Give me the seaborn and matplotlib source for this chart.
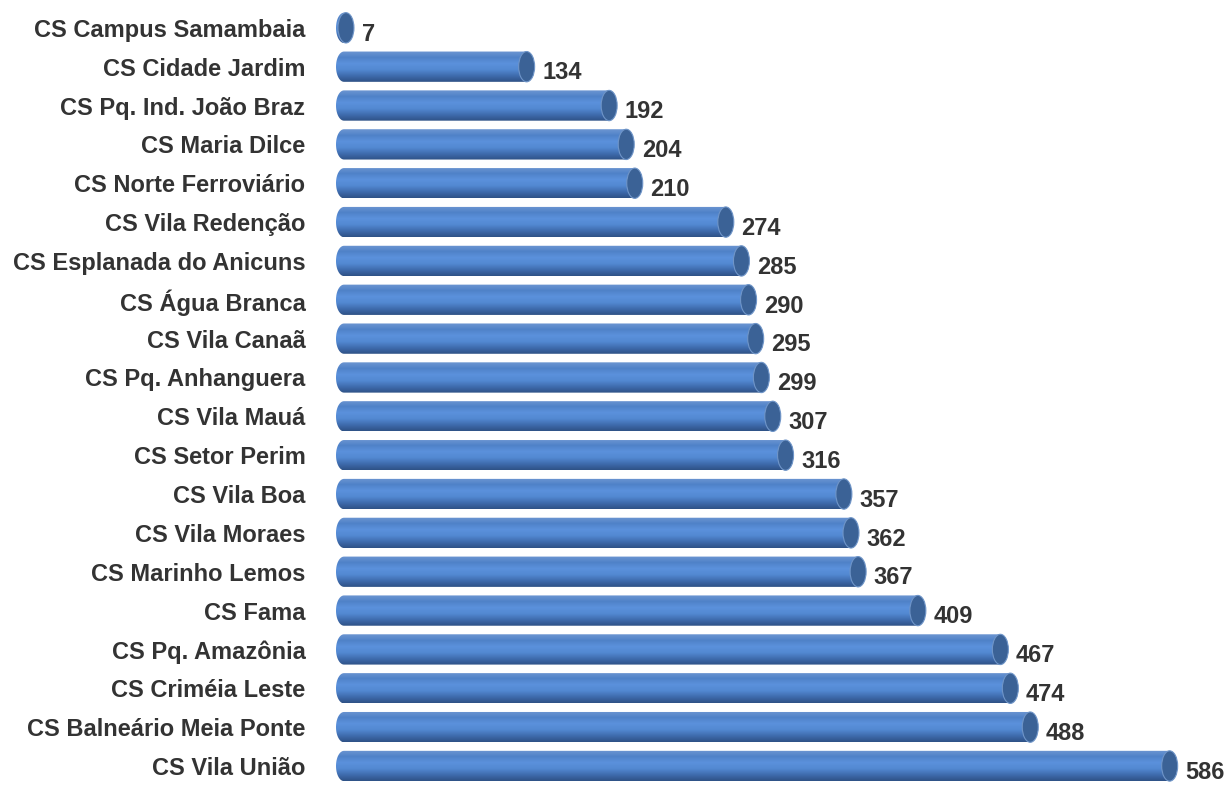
import matplotlib
matplotlib.use("Agg")
import matplotlib.pyplot as plt
import numpy as np
import pandas as pd
import seaborn as sns
from matplotlib.colors import LinearSegmentedColormap
from matplotlib.patches import Ellipse, PathPatch
from matplotlib.path import Path

units = ["CS Campus Samambaia", "CS Cidade Jardim", "CS Pq. Ind. João Braz",
         "CS Maria Dilce", "CS Norte Ferroviário", "CS Vila Redenção",
         "CS Esplanada do Anicuns", "CS Água Branca", "CS Vila Canaã",
         "CS Pq. Anhanguera", "CS Vila Mauá", "CS Setor Perim", "CS Vila Boa",
         "CS Vila Moraes", "CS Marinho Lemos", "CS Fama", "CS Pq. Amazônia",
         "CS Criméia Leste", "CS Balneário Meia Ponte", "CS Vila União"]
counts = [7, 134, 192, 204, 210, 274, 285, 290, 295, 299, 307, 316, 357, 362,
          367, 409, 467, 474, 488, 586]

df = pd.DataFrame({"unit": units, "count": counts})

sns.set_theme(style="white")
plt.rcParams["font.family"] = ["Liberation Sans", "DejaVu Sans"]

fig = plt.figure(figsize=(12.28, 7.88), dpi=100)
ax = fig.add_axes([336 / 1228, 2.6 / 788, 892 / 1228, 777 / 788])

sns.barplot(data=df, y="unit", x="count", orient="h", color="#4F81BD",
            width=0.78, ax=ax)

xmax = 627
ax.set_xlim(0, xmax)
ax.set_ylim(len(units) - 0.5, -0.5)

cmap = LinearSegmentedColormap.from_list(
    "cyl", ["#6d96d2", "#4f82c8", "#5b91dc", "#5389d2", "#3f6cae", "#2f5287"])
grad = np.linspace(0, 1, 64).reshape(-1, 1)

# ellipse width in data units (about 16 px)
cap_w = 16 * xmax / 892

for p in list(ax.patches):
    x0, y0, w, h = p.get_x(), p.get_y(), p.get_width(), p.get_height()
    p.set_visible(False)
    x1 = x0 + w
    xs = x0 + cap_w / 2
    # outline: body with rounded left end
    t = np.linspace(0, np.pi, 30)
    verts = np.vstack([[[x1, y0], [x1, y0 + h], [xs, y0 + h]],
                       np.column_stack([xs - cap_w / 2 * np.sin(t),
                                        y0 + h / 2 + h / 2 * np.cos(t)]),
                       [[x1, y0]]])
    patch = PathPatch(Path(verts, closed=True), facecolor="none", edgecolor="none")
    ax.add_patch(patch)
    end = max(x1, xs)
    im = ax.imshow(grad, cmap=cmap, aspect="auto", origin="upper",
                   extent=(x0, end, y0 + h, y0), zorder=2)
    im.set_clip_path(patch)
    cap = Ellipse((end, y0 + h / 2), cap_w, h, facecolor="#3b6296",
                  edgecolor="#6f95c8", linewidth=0.8, zorder=3)
    ax.add_patch(cap)
    ax.annotate(f"{int(round(w))}", (end + cap_w / 2, y0 + h / 2),
                xytext=(5.5, -4.5), textcoords="offset points", ha="left",
                va="center", fontsize=17, fontweight="bold", color="#333333")

ax.set_xlim(0, xmax)
ax.set_ylim(len(units) - 0.5, -0.5)
ax.set_xlabel("")
ax.set_ylabel("")
ax.set_xticks([])
ax.tick_params(axis="y", length=0, pad=22)
for lab in ax.get_yticklabels():
    lab.set_fontsize(17)
    lab.set_fontweight("bold")
    lab.set_color("#333333")
sns.despine(ax=ax, left=True, bottom=True)

fig.savefig("out.png", dpi=100)
